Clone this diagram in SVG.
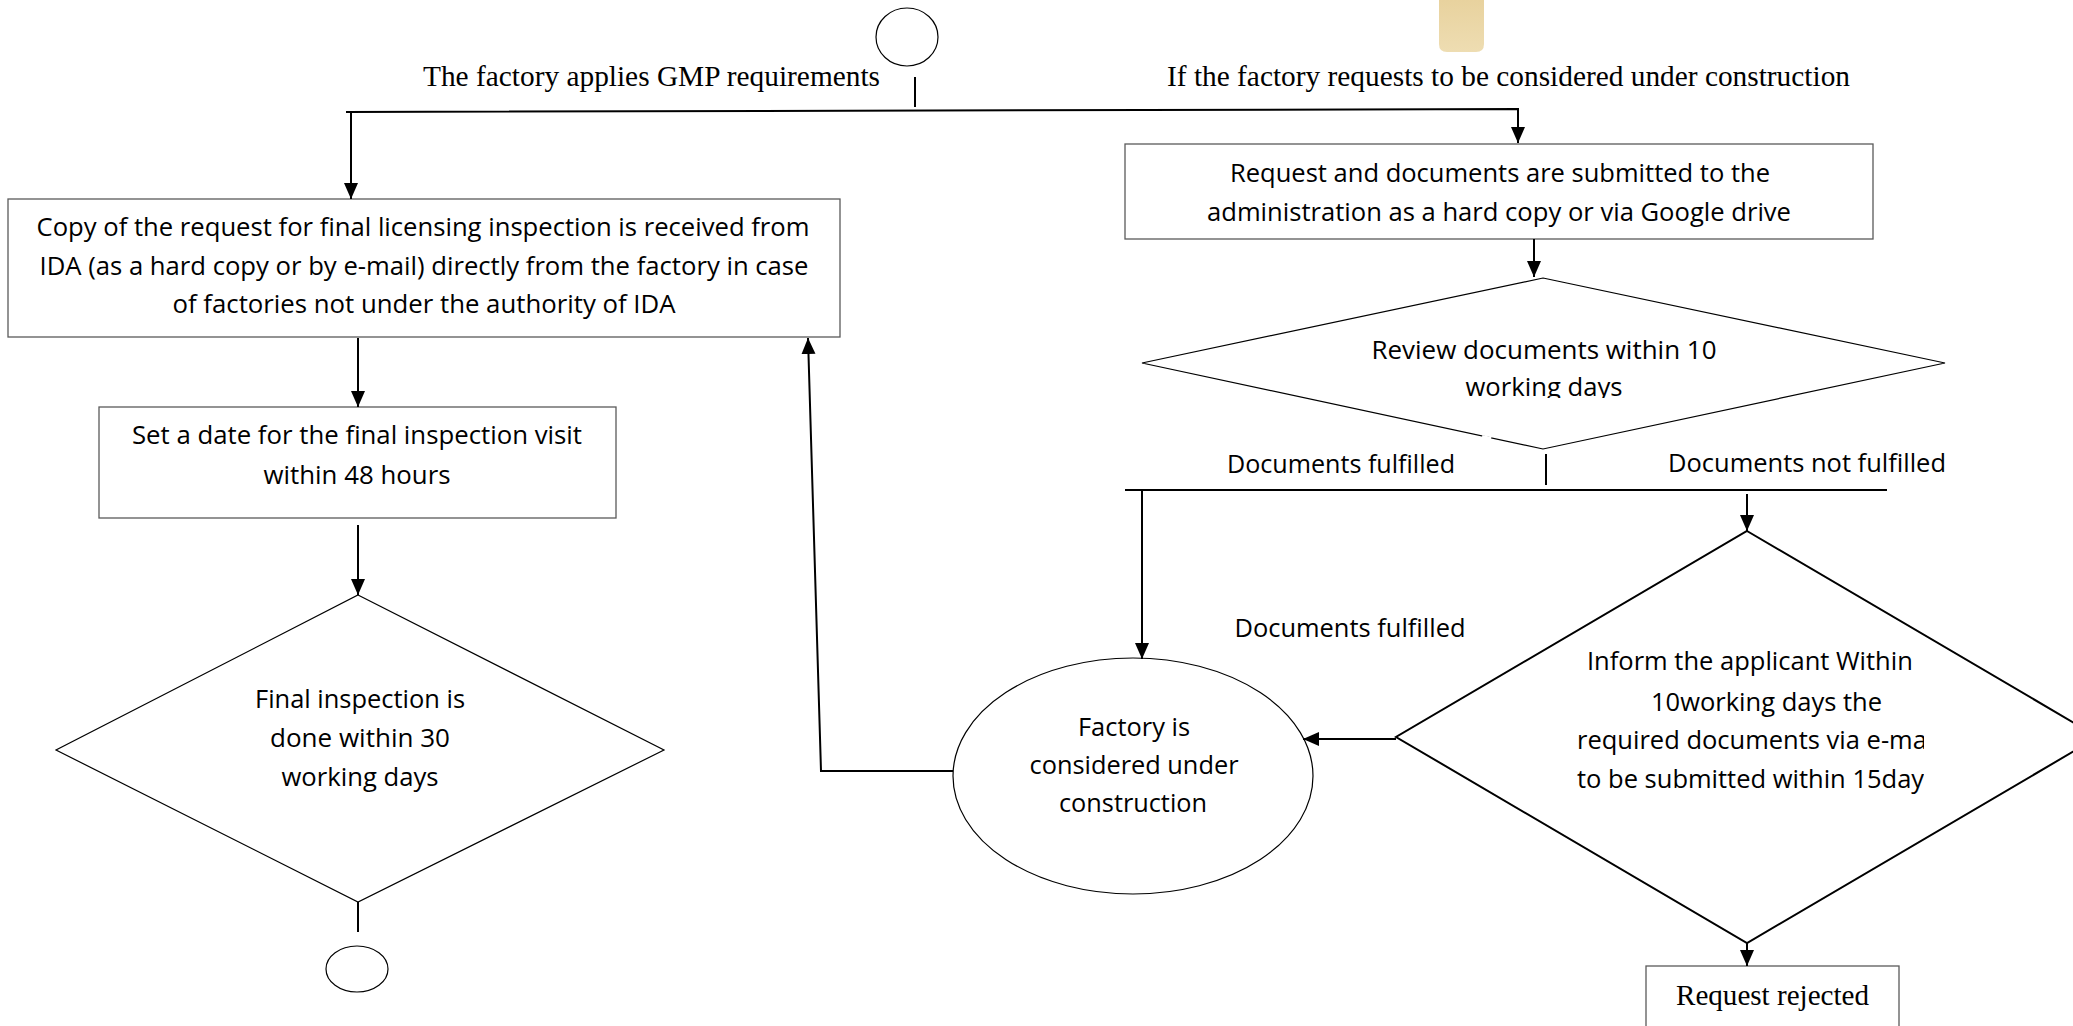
<svg xmlns="http://www.w3.org/2000/svg" width="2073" height="1026" viewBox="0 0 2073 1026">
<defs>
<style>
.box{fill:#fff;stroke:#5a5a5a;stroke-width:1.3}
.shp{fill:#fff;stroke:#000;stroke-width:1.2}
.thick{fill:#fff;stroke:#000;stroke-width:2}
.t{font-family:"Open Sans","Noto Sans",sans-serif;font-size:25px;fill:#000;text-anchor:middle}
.ts{font-family:"Open Sans","Noto Sans",sans-serif;font-size:25.5px;fill:#000}
.s{font-family:"Liberation Serif","Times New Roman",serif;font-size:29px;fill:#000}
.c{fill:none;stroke:#000;stroke-width:2}
</style>
<marker id="ah" markerUnits="userSpaceOnUse" markerWidth="16" markerHeight="16" viewBox="0 0 16 14" refX="16" refY="7" orient="auto"><path d="M0,0 L16,7 L0,14 z" fill="#000"/></marker>
<linearGradient id="tan" x1="0" y1="0" x2="0" y2="1"><stop offset="0" stop-color="#E8D29E"/><stop offset="1" stop-color="#EEDDB2"/></linearGradient>
<clipPath id="clipR"><rect x="1400" y="370" width="300" height="28"/></clipPath>
<clipPath id="clipBig"><rect x="1500" y="600" width="424" height="220"/></clipPath>
</defs>

<g id="tan-tab"><path d="M1439,0 H1484 V44 Q1484,52 1476,52 H1447 Q1439,52 1439,44 Z" fill="url(#tan)"/></g>

<g id="start"><ellipse cx="907" cy="37" rx="31" ry="29" class="shp"/></g>

<g id="labels">
<text class="s" x="423" y="86" textLength="457" lengthAdjust="spacingAndGlyphs">The factory applies GMP requirements</text>
<text class="s" x="1167" y="86" textLength="683" lengthAdjust="spacingAndGlyphs">If the factory requests to be considered under construction</text>
<text class="t" x="1341" y="473" textLength="228" lengthAdjust="spacingAndGlyphs">Documents fulfilled</text>
<text class="t" x="1807" y="472" textLength="278" lengthAdjust="spacingAndGlyphs">Documents not fulfilled</text>
<text class="t" x="1350" y="637" textLength="231" lengthAdjust="spacingAndGlyphs">Documents fulfilled</text>
</g>

<g id="box-copy-request">
<rect x="8" y="199" width="832" height="138" class="box"/>
<text class="t" x="423" y="236" textLength="773" lengthAdjust="spacingAndGlyphs">Copy of the request for final licensing inspection is received from</text>
<text class="t" x="424" y="275" textLength="769" lengthAdjust="spacingAndGlyphs">IDA (as a hard copy or by e-mail) directly from the factory in case</text>
<text class="t" x="424" y="313" textLength="503" lengthAdjust="spacingAndGlyphs">of factories not under the authority of IDA</text>
</g>

<g id="box-set-date">
<rect x="99" y="407" width="517" height="111" class="box"/>
<text class="t" x="357" y="444" textLength="450" lengthAdjust="spacingAndGlyphs">Set a date for the final inspection visit</text>
<text class="t" x="357" y="484" textLength="187" lengthAdjust="spacingAndGlyphs">within 48 hours</text>
</g>

<g id="diamond-final-inspection">
<polygon points="358,595 664,750 358,902 56,750" class="shp"/>
<text class="t" x="360" y="708" textLength="210" lengthAdjust="spacingAndGlyphs">Final inspection is</text>
<text class="t" x="360" y="747" textLength="180" lengthAdjust="spacingAndGlyphs">done within 30</text>
<text class="t" x="360" y="786" textLength="157" lengthAdjust="spacingAndGlyphs">working days</text>
</g>

<g id="end"><ellipse cx="357" cy="969" rx="31" ry="23" class="shp"/></g>

<g id="box-request-docs">
<rect x="1125" y="144" width="748" height="95" class="box"/>
<text class="t" x="1500" y="182" textLength="540" lengthAdjust="spacingAndGlyphs">Request and documents are submitted to the</text>
<text class="t" x="1499" y="221" textLength="584" lengthAdjust="spacingAndGlyphs">administration as a hard copy or via Google drive</text>
</g>

<g id="diamond-review">
<polygon points="1543,278 1945,363 1543,449 1142,363" class="shp"/>
<line x1="1482" y1="437" x2="1491" y2="439" stroke="#fff" stroke-width="4"/>
<text class="t" x="1544" y="359" textLength="345" lengthAdjust="spacingAndGlyphs">Review documents within 10</text>
<text class="t" x="1544" y="396" textLength="157" lengthAdjust="spacingAndGlyphs" clip-path="url(#clipR)">working days</text>
</g>

<g id="ellipse-under-construction">
<ellipse cx="1133" cy="776" rx="180" ry="118" class="shp"/>
<text class="t" x="1134" y="736" textLength="112" lengthAdjust="spacingAndGlyphs">Factory is</text>
<text class="t" x="1134" y="774" textLength="209" lengthAdjust="spacingAndGlyphs">considered under</text>
<text class="t" x="1133" y="812" textLength="148" lengthAdjust="spacingAndGlyphs">construction</text>
</g>

<g id="diamond-inform">
<polygon points="1747,531 2098,737 1747,943 1396,737" class="thick"/>
<g clip-path="url(#clipBig)">
<text class="ts" x="1587" y="670">Inform the applicant Within</text>
<text class="ts" x="1651" y="711">10working days the</text>
<text class="ts" x="1577" y="749">required documents via e-ma</text>
<text class="ts" x="1577" y="788">to be submitted within 15day</text>
</g>
</g>

<g id="box-rejected">
<rect x="1646" y="966" width="253" height="70" class="box"/>
<text class="s" x="1676" y="1005" textLength="193" lengthAdjust="spacingAndGlyphs">Request rejected</text>
</g>

<g id="connectors">
<line x1="915" y1="77" x2="915" y2="107" class="c" stroke-width="1.6"/>
<path d="M346,112 L1518,109 L1518,143" class="c" stroke-width="2.5" marker-end="url(#ah)"/>
<line x1="351" y1="113" x2="351" y2="199" class="c" marker-end="url(#ah)"/>
<line x1="358" y1="338" x2="358" y2="407" class="c" marker-end="url(#ah)"/>
<line x1="358" y1="525" x2="358" y2="595" class="c" marker-end="url(#ah)"/>
<line x1="358" y1="902" x2="358" y2="932" class="c" stroke-width="1.6"/>
<path d="M953,771 L821,771 L808,338" class="c" marker-end="url(#ah)"/>
<line x1="1534" y1="239" x2="1534" y2="277" class="c" marker-end="url(#ah)"/>
<line x1="1546" y1="454" x2="1546" y2="485" class="c" stroke-width="1.6"/>
<line x1="1125" y1="490" x2="1887" y2="490" class="c" stroke-width="2.2"/>
<line x1="1142" y1="491" x2="1142" y2="659" class="c" marker-end="url(#ah)"/>
<line x1="1747" y1="494" x2="1747" y2="531" class="c" marker-end="url(#ah)"/>
<line x1="1396" y1="739" x2="1303" y2="739" class="c" marker-end="url(#ah)"/>
<line x1="1747" y1="943" x2="1747" y2="966" class="c" marker-end="url(#ah)"/>
</g>
</svg>
